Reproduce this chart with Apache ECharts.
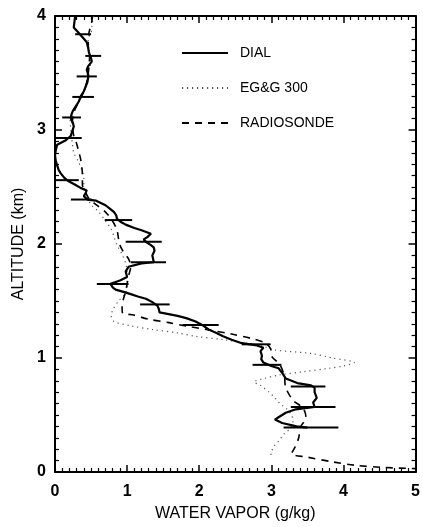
<!DOCTYPE html>
<html>
<head>
<meta charset="utf-8">
<script src="https://cdn.jsdelivr.net/npm/echarts@6/dist/echarts.min.js"></script>
<style>
html,body{margin:0;padding:0;background:#fff;}
#chart{width:423px;height:527px;}
</style>
</head>
<body>
<div id="chart"></div>
<script>
// ---- data (altitude in km, water vapor in g/kg) ----
const xTicks = [0, 1, 2, 3, 4, 5];
const yTicks = [0, 1, 2, 3, 4];
const seriesNames = ['DIAL', 'EG&G 300', 'RADIOSONDE'];

const dialAlt = [4.00,3.95,3.90,3.85,3.80,3.77,3.72,3.68,3.63,3.60,3.56,3.53,3.49,3.46,3.42,3.39,3.34,3.30,3.25,3.21,3.17,3.14,3.10,3.06,3.03,2.99,2.95,2.91,2.87,2.82,2.78,2.73,2.69,2.65,2.62,2.58,2.55,2.52,2.49,2.47,2.44,2.42,2.39,2.38,2.34,2.31,2.28,2.25,2.22,2.19,2.17,2.14,2.12,2.09,2.06,2.04,2.02,1.99,1.97,1.94,1.90,1.87,1.84,1.83,1.80,1.76,1.71,1.68,1.65,1.62,1.60,1.58,1.56,1.54,1.52,1.49,1.46,1.43,1.40,1.37,1.35,1.32,1.29,1.25,1.22,1.19,1.16,1.13,1.11,1.09,1.06,1.02,0.99,0.96,0.93,0.91,0.87,0.82,0.78,0.76,0.74,0.70,0.65,0.61,0.57,0.55,0.52,0.48,0.46,0.43,0.40,0.39];
const dialVapor = [0.28,0.27,0.26,0.33,0.40,0.44,0.46,0.47,0.50,0.51,0.46,0.44,0.46,0.46,0.45,0.43,0.40,0.36,0.33,0.29,0.25,0.23,0.22,0.25,0.26,0.24,0.22,0.15,0.03,0.01,0.00,0.01,0.03,0.05,0.08,0.13,0.19,0.28,0.36,0.44,0.42,0.40,0.45,0.57,0.70,0.76,0.82,0.85,0.86,0.92,0.98,1.10,1.20,1.33,1.28,1.23,1.26,1.33,1.37,1.38,1.35,1.36,1.37,1.20,1.02,0.98,1.00,0.90,0.77,0.80,0.84,0.95,1.05,1.15,1.26,1.35,1.42,1.44,1.45,1.70,1.82,1.95,2.04,2.13,2.24,2.33,2.45,2.59,2.80,2.89,2.85,2.87,2.86,2.89,3.00,3.10,3.15,3.20,3.36,3.55,3.60,3.60,3.63,3.58,3.60,3.34,3.20,3.10,3.05,3.15,3.35,3.50];

const eggAlt = [4.00,3.95,3.90,3.85,3.80,3.70,3.60,3.50,3.40,3.30,3.20,3.10,3.00,2.95,2.88,2.80,2.73,2.65,2.58,2.50,2.45,2.40,2.34,2.28,2.22,2.13,2.06,1.99,1.91,1.83,1.75,1.65,1.57,1.50,1.42,1.37,1.32,1.28,1.25,1.22,1.19,1.16,1.13,1.10,1.07,1.04,1.00,0.96,0.93,0.91,0.88,0.85,0.82,0.79,0.76,0.70,0.65,0.60,0.55,0.50,0.45,0.39,0.33,0.27,0.22,0.17,0.13];
const eggVapor = [0.54,0.52,0.51,0.50,0.46,0.47,0.50,0.45,0.44,0.37,0.28,0.21,0.22,0.23,0.24,0.26,0.32,0.37,0.40,0.40,0.43,0.45,0.51,0.61,0.68,0.78,0.82,0.86,0.93,0.98,1.00,1.00,0.98,0.88,0.80,0.78,0.82,1.07,1.35,1.70,1.95,2.35,2.65,2.90,3.05,3.55,3.85,4.15,4.00,3.80,3.45,3.10,2.90,2.76,2.85,2.97,3.05,3.12,3.22,3.28,3.30,3.27,3.17,3.10,3.03,3.00,2.99];

const sondeAlt = [4.00,3.95,3.90,3.85,3.75,3.65,3.55,3.45,3.35,3.25,3.15,3.05,2.95,2.88,2.81,2.73,2.61,2.52,2.46,2.40,2.34,2.28,2.20,2.12,2.05,1.99,1.93,1.87,1.80,1.72,1.65,1.58,1.52,1.45,1.39,1.38,1.34,1.31,1.28,1.25,1.21,1.17,1.13,1.08,1.02,0.94,0.84,0.74,0.63,0.56,0.48,0.39,0.30,0.22,0.16,0.13,0.09,0.06,0.04,0.03];
const sondeVapor = [0.52,0.51,0.49,0.47,0.46,0.48,0.47,0.45,0.41,0.33,0.26,0.24,0.26,0.30,0.33,0.36,0.38,0.38,0.42,0.47,0.58,0.70,0.80,0.86,0.88,0.90,0.95,1.02,1.05,1.02,1.00,0.98,0.95,0.93,0.94,1.07,1.30,1.58,1.82,2.10,2.45,2.73,2.92,2.99,3.00,3.12,3.18,3.20,3.30,3.44,3.48,3.40,3.38,3.33,3.28,3.50,3.84,4.15,4.55,5.00];

// DIAL error bars: altitude, low, high
const errAlt  = [3.84,3.65,3.47,3.29,3.11,2.93,2.56,2.39,2.21,2.02,1.84,1.65,1.47,1.29,1.12,0.94,0.75,0.57,0.39];
const errLow  = [0.28,0.42,0.30,0.24,0.10,0.00,0.00,0.22,0.69,0.98,1.05,0.58,1.18,1.77,2.59,2.74,3.27,3.27,3.17];
const errHigh = [0.50,0.64,0.58,0.54,0.36,0.37,0.33,0.51,1.07,1.48,1.54,1.02,1.59,2.27,2.99,3.14,3.75,3.89,3.93];

// ---- build ----
const zip = (xs, ys) => xs.map((x, i) => [x, ys[i]]);
const FONT = 'Liberation Sans';

const chart = echarts.init(document.getElementById('chart'), null, {renderer: 'canvas'});

function axisBase() {
  return {
    type: 'value',
    interval: 1,
    axisLine: {show: true, onZero: false, lineStyle: {color: '#000', width: 2}},
    axisTick: {show: true, inside: true, length: 7, lineStyle: {color: '#000', width: 1.5}},
    minorTick: {show: true, splitNumber: 10, length: 4, lineStyle: {color: '#000', width: 1.2}},
    splitLine: {show: false},
    minorSplitLine: {show: false}
  };
}

const option = {
  backgroundColor: '#fff',
  animation: false,
  grid: {left: 55, right: 6, top: 16, bottom: 49, containLabel: false},
  legend: {
    orient: 'vertical',
    left: 176,
    top: 41,
    itemWidth: 46,
    itemHeight: 14,
    itemGap: 21,
    data: seriesNames,
    itemStyle: {opacity: 0},
    textStyle: {fontFamily: FONT, fontSize: 14, color: '#000', padding: [0, 0, 0, 7]}
  },
  xAxis: [
    Object.assign(axisBase(), {
      min: 0, max: 5, position: 'bottom',
      name: 'WATER VAPOR (g/kg)', nameLocation: 'middle', nameGap: 34,
      nameTextStyle: {fontFamily: FONT, fontSize: 16, color: '#000'},
      axisLabel: {fontFamily: FONT, fontSize: 16, fontWeight: 'bold', color: '#000', margin: 12,
        formatter: v => xTicks.includes(v) ? String(v) : ''}
    }),
    Object.assign(axisBase(), {min: 0, max: 5, position: 'top', axisLabel: {show: false}})
  ],
  yAxis: [
    Object.assign(axisBase(), {
      min: 0, max: 4, position: 'left',
      name: 'ALTITUDE (km)', nameLocation: 'middle', nameGap: 28, nameRotate: 90,
      nameTextStyle: {fontFamily: FONT, fontSize: 16, color: '#000'},
      axisLabel: {fontFamily: FONT, fontSize: 16, fontWeight: 'bold', color: '#000', margin: 9,
        formatter: v => yTicks.includes(v) ? String(v) : ''}
    }),
    Object.assign(axisBase(), {min: 0, max: 4, position: 'right', axisLabel: {show: false}})
  ],
  series: [
    {
      name: 'DIAL', type: 'line', data: zip(dialVapor, dialAlt),
      symbol: 'none', smooth: false, z: 5,
      lineStyle: {color: '#000', width: 2.2, type: 'solid'},
      itemStyle: {color: '#000'}
    },
    {
      name: 'EG&G 300', type: 'line', data: zip(eggVapor, eggAlt),
      symbol: 'none', smooth: 0.3, z: 3,
      lineStyle: {color: '#555', width: 1.2, type: [1.2, 3.8]},
      itemStyle: {color: '#555'}
    },
    {
      name: 'RADIOSONDE', type: 'line', data: zip(sondeVapor, sondeAlt),
      symbol: 'none', smooth: 0.3, z: 4,
      lineStyle: {color: '#000', width: 1.6, type: [7, 6]},
      itemStyle: {color: '#000'}
    },
    {
      name: 'errorbars', type: 'custom', z: 6,
      data: errAlt.map((a, i) => [a, errLow[i], errHigh[i]]),
      encode: {x: [1, 2], y: 0},
      renderItem: function (params, api) {
        const p1 = api.coord([api.value(1), api.value(0)]);
        const p2 = api.coord([api.value(2), api.value(0)]);
        return {
          type: 'line',
          shape: {x1: p1[0], y1: p1[1], x2: p2[0], y2: p2[1]},
          style: {stroke: '#000', lineWidth: 2}
        };
      }
    }
  ]
};
chart.setOption(option);
</script>
</body>
</html>
